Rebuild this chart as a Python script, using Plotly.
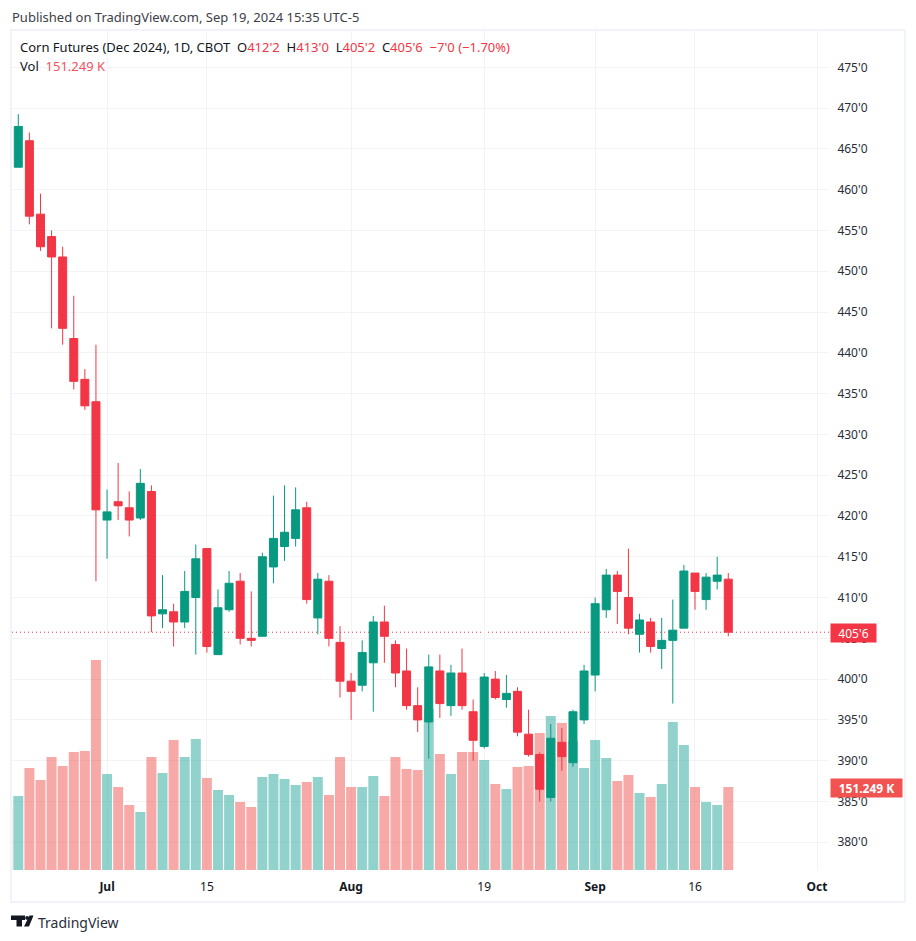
import plotly.graph_objects as go

# ---- data -------------------------------------------------------------
dates = ["2024-06-18","2024-06-20","2024-06-21","2024-06-24","2024-06-25","2024-06-26","2024-06-27","2024-06-28",
         "2024-07-01","2024-07-02","2024-07-03","2024-07-05","2024-07-08","2024-07-09","2024-07-10","2024-07-11","2024-07-12",
         "2024-07-15","2024-07-16","2024-07-17","2024-07-18","2024-07-19","2024-07-22","2024-07-23","2024-07-24","2024-07-25","2024-07-26",
         "2024-07-29","2024-07-30","2024-07-31","2024-08-01","2024-08-02","2024-08-05","2024-08-06","2024-08-07","2024-08-08","2024-08-09",
         "2024-08-12","2024-08-13","2024-08-14","2024-08-15","2024-08-16","2024-08-19","2024-08-20","2024-08-21","2024-08-22","2024-08-23",
         "2024-08-26","2024-08-27","2024-08-28","2024-08-29","2024-08-30","2024-09-03","2024-09-04","2024-09-05","2024-09-06",
         "2024-09-09","2024-09-10","2024-09-11","2024-09-12","2024-09-13","2024-09-16","2024-09-17","2024-09-18","2024-09-19"]
future_dates = ["2024-09-20","2024-09-23","2024-09-24","2024-09-25","2024-09-26","2024-09-27","2024-09-30","2024-10-01","2024-10-02"]
earlier_date = "2024-06-17"
earlier_volume = 113.0

opens  = [462.75,466,457,454.25,451.75,441.75,436.75,434,
          419.5,421.75,421,419.75,423,408,408.25,407,410,
          416,403,408.5,412,405,405.25,413.75,416.25,417.25,421,
          407.5,412,404.5,399.75,399.25,402,407,404.25,401,396.75,
          394.75,401,396.75,400.75,396,391.75,400,397.5,398.5,393.25,
          390.75,385.5,392.25,389.75,395,400.5,408.5,412.75,410,
          405.5,407,403.75,404.75,406.25,413,409.75,412,412.25]
highs  = [469.25,467,459.5,455,453,447,438,441,
          423.25,426.5,423,425.75,423.75,412.75,409.25,413.25,416.5,
          416,411,413.25,413,410.75,415.5,422.5,423.75,423.5,421.75,
          413,412.75,406.5,400.75,404.75,407.75,409,404.75,403.75,399,
          403,403,401.75,403.75,397.5,400.75,401,400.5,399,396.25,
          391,394.5,394,396.25,401.75,410,413.5,413.25,416,
          408,407.5,407.5,409.75,414,413,413,415,413]
lows   = [462.75,455.75,452.5,443,441,435.5,433,412,
          414.75,419.5,417.5,419.5,405.75,406.25,404,406.25,403,
          403.25,403,408.25,404.25,404,405.25,411.75,414.5,416.25,409.25,
          405.5,404,397.75,395,398.5,396,402,399,396.25,393.5,
          390.25,395.25,395.5,396.25,390,391.5,397.5,396.5,393,390.5,
          385,385,388.75,389.25,394.5,398.5,407.5,406.75,405.5,
          403.25,403.25,401.25,397,406.25,408.5,408.5,411,405.25]
closes = [467.75,456.75,453,451.75,443,436.5,433.5,420.75,
          420.5,421.25,419.5,424,407.75,408.5,407,410.75,414.75,
          404,408.75,411.75,405,404.75,415,417.25,418,420.75,409.75,
          412.25,405,399.75,398.5,403.25,407,405.25,400.75,396.75,395,
          401.5,397,400.75,396.75,392.5,400.25,397.75,398.25,393.5,390.75,
          386.5,392.75,390.5,396,401,409.25,412.75,410.75,406.25,
          407.25,404,404.75,406,413.25,410.75,412.5,412.75,405.75]
volumes = [134.8,185.8,164,205.9,189.5,215,216.8,382.6,
           174.9,151.2,118.4,105.7,205.9,176.7,236.9,205.9,238.7,
           167.6,145.8,136.7,123.9,114.8,169.4,174.9,165.8,154.9,160.3,
           169.4,136.7,205.9,151.2,151.2,171.3,134.8,205.9,184,182.2,
           293.3,211.4,174.9,215,215,200.4,156.7,147.6,187.7,189.5,
           249.6,280.6,267.8,235,185.8,236.9,204,162.2,173.1,
           140.3,133,156.7,269.7,227.8,151.2,123.9,118.4,151.249]

price_ticks = [380,385,390,395,400,405,410,415,420,425,430,435,440,445,450,455,460,465,470,475]
price_tick_labels = [f"{p}'0" for p in price_ticks]
time_ticks = ["2024-07-01","2024-07-15","2024-08-01","2024-08-19","2024-09-03","2024-09-16","2024-10-01"]
time_tick_labels = ["<b>Jul</b>","15","<b>Aug</b>","19","<b>Sep</b>","16","<b>Oct</b>"]
last_price = 405.75
last_price_label = "405'6"
last_volume_label = "151.249 K"

# ---- style ------------------------------------------------------------
RED, GREEN = "#F23645", "#089981"
VRED, VGREEN = "rgba(239,83,80,0.5)", "rgba(38,166,154,0.5)"
BADGE_VOL = "#F05350"
GRID, FRAME = "#F3F3F5", "#F0F3FA"
TXT = "#131722"
FONT = "Noto Sans"
W, H = 916, 941
L, R, T, B = 12, 829, 31, 870   # plot rectangle in page pixels

def px(x): return (x - L) / (R - L)
def py(y): return (B - y) / (B - T)

all_dates = [earlier_date] + dates + future_dates
all_volumes = [earlier_volume] + volumes
vol_colors = [VRED] + [VGREEN if c > o else VRED for o, c in zip(opens, closes)]

fig = go.Figure()
fig.add_trace(go.Bar(x=all_dates[:len(all_volumes)], y=all_volumes, marker=dict(color=vol_colors, line_width=0),
                     yaxis="y", xaxis="x", showlegend=False, hoverinfo="skip"))
fig.add_trace(go.Candlestick(x=dates, open=opens, high=highs, low=lows, close=closes, yaxis="y2", xaxis="x",
                             increasing=dict(line=dict(color=GREEN, width=1), fillcolor=GREEN),
                             decreasing=dict(line=dict(color=RED, width=1), fillcolor=RED),
                             showlegend=False))

def txt(x, y, s, size=13, color=TXT, anchor="left", **kw):
    return dict(text=s, x=px(x), y=py(y), xref="paper", yref="paper", xanchor=anchor, yanchor="middle",
                showarrow=False, align="left", font=dict(family=FONT, size=size, color=color), **kw)

def c(s): return f'<span style="color:{RED}">{s}</span>'

annotations = [
    txt(10, 17, "Published on TradingView.com, Sep 19, 2024 15:35 UTC-5", 13, "#3d4048"),
    txt(18, 47, "Corn Futures (Dec 2024), 1D, CBOT  O" + c("412'2") + "  H" + c("413'0") + "  L" + c("405'2") + "  C" + c("405'6") + "  " + c("−7'0 (−1.70%)"), 13),
    txt(18, 66, 'Vol  <span style="color:#F7525F">151.249 K</span>', 13),
    txt(36, 922, "TradingView", 14, "#2a2e39"),
    dict(text=f'<span style="color:#ffffff">{last_price_label}</span>', x=px(830), y=py(632.5), xref="paper", yref="paper",
         xanchor="left", yanchor="middle", showarrow=False, bgcolor=RED, width=43, height=16,
         font=dict(family=FONT, size=12, color="#ffffff")),
    dict(text=f'<b>{last_volume_label}</b>', x=px(830), y=py(787.5), xref="paper", yref="paper",
         xanchor="left", yanchor="middle", showarrow=False, bgcolor=BADGE_VOL, width=69, height=16,
         font=dict(family=FONT, size=12, color="#ffffff")),
]

# frame, last-price line and logo
shapes = [
    dict(type="rect", xref="paper", yref="paper", x0=px(11), x1=px(905), y0=py(902), y1=py(30),
         line=dict(color=FRAME, width=2), fillcolor="rgba(0,0,0,0)", layer="below"),
    dict(type="line", xref="paper", yref="y2", x0=0, x1=1, y0=last_price, y1=last_price,
         line=dict(color=RED, width=1, dash="1px,3px"), layer="below"),
]
def poly(pts, color="#131722"):
    d = "M" + " L".join(f"{px(a):.5f},{py(b):.5f}" for a, b in pts) + " Z"
    return dict(type="path", xref="paper", yref="paper", path=d, fillcolor=color, line_width=0, layer="above")
shapes += [
    poly([(11, 915.5), (25, 915.5), (25, 920), (22, 920), (22, 926.5), (16.5, 926.5), (16.5, 920), (11, 920)]),
    poly([(29.5, 915.5), (33.5, 915.5), (29, 926.5), (24, 926.5)]),
    dict(type="circle", xref="paper", yref="paper", x0=px(25.2), x1=px(29), y0=py(919.8), y1=py(916),
         fillcolor="#131722", line_width=0),
]

fig.update_layout(
    width=W, height=H, paper_bgcolor="#ffffff", plot_bgcolor="#ffffff",
    margin=dict(l=L, r=W - R, t=T, b=H - B, pad=0), autosize=False,
    bargap=0.1, boxgap=0.28, boxgroupgap=0, barmode="overlay", showlegend=False, dragmode=False,
    font=dict(family=FONT, size=12, color=TXT),
    xaxis=dict(type="category", categoryorder="array", categoryarray=all_dates,
               range=[0.432, 74.08], tickmode="array", tickvals=time_ticks, ticktext=time_tick_labels,
               showgrid=True, gridcolor=GRID, gridwidth=1, zeroline=False, showline=False,
               ticks="outside", ticklen=6, tickcolor="rgba(0,0,0,0)", tickangle=0,
               rangeslider=dict(visible=False), tickfont=dict(family=FONT, size=12, color="#131722")),
    yaxis=dict(domain=[0, 1], range=[0, 1529], visible=False, showgrid=False, zeroline=False, fixedrange=True),
    yaxis2=dict(overlaying="y", side="right", anchor="x", range=[376.6, 479.45], tickmode="array",
                tickvals=price_ticks, ticktext=price_tick_labels, showgrid=True, gridcolor=GRID, gridwidth=1,
                zeroline=False, showline=False, ticks="outside", ticklen=5, tickcolor="rgba(0,0,0,0)",
                tickfont=dict(family=FONT, size=12, color="#2a2e39")),
    annotations=annotations, shapes=shapes,
)

fig.write_html("out.html", config=dict(displayModeBar=False),
               post_script="document.body.style.margin='0';document.body.style.overflow='hidden';")
